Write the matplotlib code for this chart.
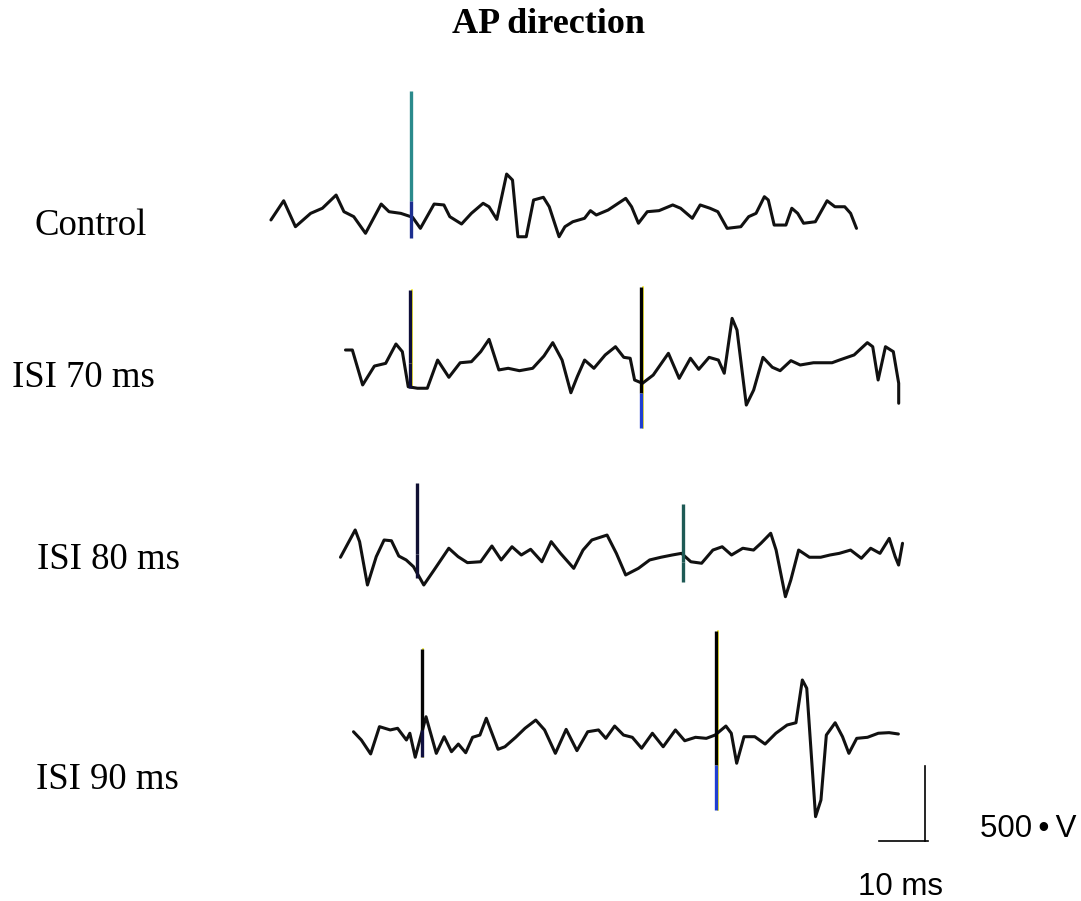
import numpy as np
import matplotlib
matplotlib.use("Agg")
import matplotlib.pyplot as plt
from matplotlib.transforms import offset_copy

# ---------------- data (time in ms from trace start, amplitude in µV) ----------------
labels = ["Control", "ISI 70 ms", "ISI 80 ms", "ISI 90 ms"]
title = "AP direction"

control_t = [0.6, 3.2, 5.6, 8.7, 11.1, 13.9, 15.5, 17.5, 19.9, 23.1, 24.7, 27.1, 29.5, 31.1, 33.9,
             35.9, 37.1, 39.5, 41.5, 43.9, 45.1, 46.7, 48.7, 49.9, 51.0, 52.7, 54.2, 56.2, 57.4, 59.4,
             60.6, 62.2, 64.6, 65.8, 67.0, 69.4, 73.0, 74.2, 75.6, 77.4, 79.8, 82.6, 84.2, 86.6, 88.2,
             90.2, 91.8, 93.7, 96.5, 98.1, 99.6, 101.3, 102.1, 103.3, 105.7, 106.9, 108.1, 109.3, 111.7,
             114.1, 115.7, 117.7, 118.9, 120.1]
control_v = [-53, 75, -98, -9, 25, 113, 2, -31, -142, 53, 2, -9, -35, -109, 53,
             47, -31, -80, -9, 58, 35, -49, 253, 213, -165, -165, 80, 98, 35, -165,
             -98, -65, -42, 9, -20, 13, 91, 35, -75, 2, 9, 47, 25, -42, 47,
             25, 2, -109, -98, -31, -9, 102, 80, -87, -87, 25, -9, -75, -65,
             75, 35, 35, -9, -109]
control_spike_t = [29.2]
control_spike_top = [807]
control_spike_bottom = [-173]

isi70_t = [0.1, 1.5, 3.6, 6.0, 8.3, 10.4, 11.7, 12.9, 14.8, 16.8, 18.9, 21.2, 23.5, 25.8, 27.7,
           29.4, 31.4, 33.3, 35.6, 38.3, 40.6, 42.4, 44.3, 46.1, 47.4, 48.9, 50.8, 53.1, 55.2, 56.9,
           58.2, 59.1, 60.7, 62.9, 66.0, 68.2, 70.5, 72.2, 74.3, 76.2, 77.4, 79.0, 80.0, 81.9, 83.4,
           85.3, 87.2, 88.8, 91.0, 92.9, 95.6, 99.4, 100.9, 103.9, 106.6, 107.7, 108.8, 110.3, 111.9,
           113.0, 113.0]
isi70_v = [100, 100, -133, -7, 11, 140, 89, -145, -155, -155, 33, -82, 15, 22, 89,
           171, -33, -22, -38, -22, 60, 149, 33, -185, -78, 33, -22, 67, 122, 51,
           45, -100, -122, -67, 78, -89, 45, -29, 51, 33, -55, 311, 233, -267, -167,
           51, -15, -38, 29, 0, 15, 15, 33, 67, 149, 122, -100, 122, 89,
           -122, -255]
isi70_spike_t = [13.3, 60.4]
isi70_spike_top = [500, 520]
isi70_spike_bottom = [-153, -420]

isi80_t = [0.1, 3.1, 4.0, 5.6, 7.4, 9.0, 10.5, 12.0, 13.5, 15.0, 17.1, 19.2, 22.2, 24.1, 26.0,
           28.7, 31.0, 32.9, 35.1, 37.0, 38.9, 41.2, 43.1, 45.0, 47.7, 49.6, 51.4, 54.5, 56.4, 58.3,
           60.9, 63.2, 65.5, 67.8, 69.7, 71.6, 73.8, 76.1, 78.0, 79.9, 82.2, 84.4, 85.9, 87.9, 89.0,
           90.9, 92.0, 93.6, 95.8, 98.1, 100.0, 101.9, 104.2, 106.4, 108.3, 110.2, 112.1, 113.3, 114.0,
           114.8]
isi80_v = [-15, 167, 89, -200, -11, 100, 95, -7, -33, -78, -200, -100, 45, -11, -51,
           -45, 60, -33, 55, 0, 38, -45, 89, 11, -89, 33, 100, 133, 11, -133,
           -89, -33, -15, 0, 11, -45, -55, 33, 55, 0, 45, 33, 78, 145, 33,
           -278, -167, 33, -15, -15, 0, 11, 33, -22, 45, 11, 111, -11, -67,
           78]
isi80_spike_t = [15.8, 69.9]
isi80_spike_top = [478, 338]
isi80_spike_bottom = [-150, -178]

isi90_t = [0.1, 1.7, 3.6, 5.4, 7.6, 9.1, 10.9, 11.6, 12.7, 14.9, 17.0, 18.6, 20.1, 21.5, 23.0,
           24.4, 25.9, 27.2, 29.6, 31.0, 33.2, 35.1, 37.3, 39.1, 41.3, 43.5, 45.7, 47.9, 50.1, 51.6,
           53.4, 55.2, 57.0, 58.9, 61.1, 63.3, 65.8, 67.7, 69.9, 72.1, 73.9, 76.1, 77.2, 78.3, 79.8,
           82.0, 84.1, 86.3, 88.6, 90.4, 91.7, 92.6, 94.4, 95.5, 96.6, 98.4, 99.9, 101.2, 102.8,
           105.0, 107.2, 109.4, 111.3]
isi90_v = [35, -20, -113, 69, 47, 58, -20, 25, -135, 135, -109, 2, -98, -47, -105,
           -2, 13, 125, -82, -65, -2, 58, 113, 47, -109, 51, -91, 35, 47, -9,
           73, 13, -2, -75, 25, -65, 47, -25, -2, -9, 13, 73, 25, -175, 2,
           2, -47, 25, 80, 95, 380, 325, -531, -420, 13, 95, 2, -109, -9,
           -2, 25, 29, 20]
isi90_spike_t = [14.0, 74.1]
isi90_spike_top = [585, 709]
isi90_spike_bottom = [-133, -487]

scale_ms = 10
scale_uv = 500
scale_labels = ["10 ms", "500\u2009\u2022\u2009V"]

# ---------------- layout / style ----------------
W, H, DPI = 1081, 901, 100
PX_PER_MS = 4.9
PX_PER_UV = 0.15

fig = plt.figure(figsize=(W / DPI, H / DPI), dpi=DPI)
fig.patch.set_facecolor("white")


def make_axes(x0_px, base_px, t_max=130.0, v_lo=-800.0, v_hi=1000.0):
    left = x0_px / W
    width = t_max * PX_PER_MS / W
    bottom_px = base_px - v_lo * PX_PER_UV
    bottom = 1 - bottom_px / H
    height = (v_hi - v_lo) * PX_PER_UV / H
    ax = fig.add_axes([left, bottom, width, height])
    ax.set_xlim(0, t_max)
    ax.set_ylim(v_lo, v_hi)
    ax.set_axis_off()
    ax.patch.set_visible(False)
    return ax


trace_data = [
    (control_t, control_v, control_spike_t, control_spike_top, control_spike_bottom),
    (isi70_t, isi70_v, isi70_spike_t, isi70_spike_top, isi70_spike_bottom),
    (isi80_t, isi80_v, isi80_spike_t, isi80_spike_top, isi80_spike_bottom),
    (isi90_t, isi90_v, isi90_spike_t, isi90_spike_top, isi90_spike_bottom),
]
trace_pos = [(268, 212), (345, 365), (340, 555), (353, 737)]
# per-spike colours: (upper, lower, fringe)
spike_styles = [
    [("#2b8a8c", "#1c2f90", None)],
    [("#0d0d3a", "#0d0d3a", "#f2e600"), ("#000000", "#1f3fd0", "#f2e600")],
    [("#111133", "#111133", None), ("#1e5a55", "#1e5a55", None)],
    [("#050505", "#101040", "#e8e000"), ("#000000", "#1f3fd0", "#f2e600")],
]

for (t, v, st, stop, sbot), (x0, base), styles in zip(trace_data, trace_pos, spike_styles):
    ax = make_axes(x0, base)
    ax.plot(t, v, color="#111111", lw=2.2, solid_joinstyle="round", solid_capstyle="round",
            clip_on=False, zorder=3)
    for ts, top, bot, (c_up, c_lo, fringe) in zip(st, stop, sbot, styles):
        mid = bot + 0.25 * (top - bot)
        if fringe is not None:
            tr = offset_copy(ax.transData, fig=fig, x=1.8, y=0, units="dots")
            ax.plot([ts, ts], [bot, top], color=fringe, lw=1.1, transform=tr,
                    clip_on=False, zorder=2)
        ax.plot([ts, ts], [mid, top], color=c_up, lw=2.4, clip_on=False, zorder=4,
                solid_capstyle="butt")
        ax.plot([ts, ts], [bot, mid], color=c_lo, lw=2.4, clip_on=False, zorder=4,
                solid_capstyle="butt")

# scale bar
sax = make_axes(879, 841, t_max=20, v_lo=-100, v_hi=600)
sax.plot([0, scale_ms], [0, 0], color="black", lw=1.2, clip_on=False)
sax.plot([scale_ms * 0.94, scale_ms * 0.94], [0, scale_uv], color="black", lw=1.2, clip_on=False)

# texts
serif = ["Liberation Serif", "DejaVu Serif"]
sans = ["Liberation Sans", "DejaVu Sans"]
fig.text(549 / W, 1 - 33 / H, title, ha="center", va="baseline", family=serif,
         fontweight="bold", fontsize=26)
label_pos = [(35, 235), (12, 387), (37, 569), (36, 789)]
for lab, (lx, ly) in zip(labels, label_pos):
    fig.text(lx / W, 1 - ly / H, lab, ha="left", va="baseline", family=serif, fontsize=26.5)

fig.text(858 / W, 1 - 895 / H, scale_labels[0], ha="left", va="baseline", family=sans, fontsize=22.5)
fig.text(980 / W, 1 - 837 / H, scale_labels[1], ha="left", va="baseline", family=sans, fontsize=22.5)

fig.savefig("out.png", dpi=DPI, facecolor="white")
